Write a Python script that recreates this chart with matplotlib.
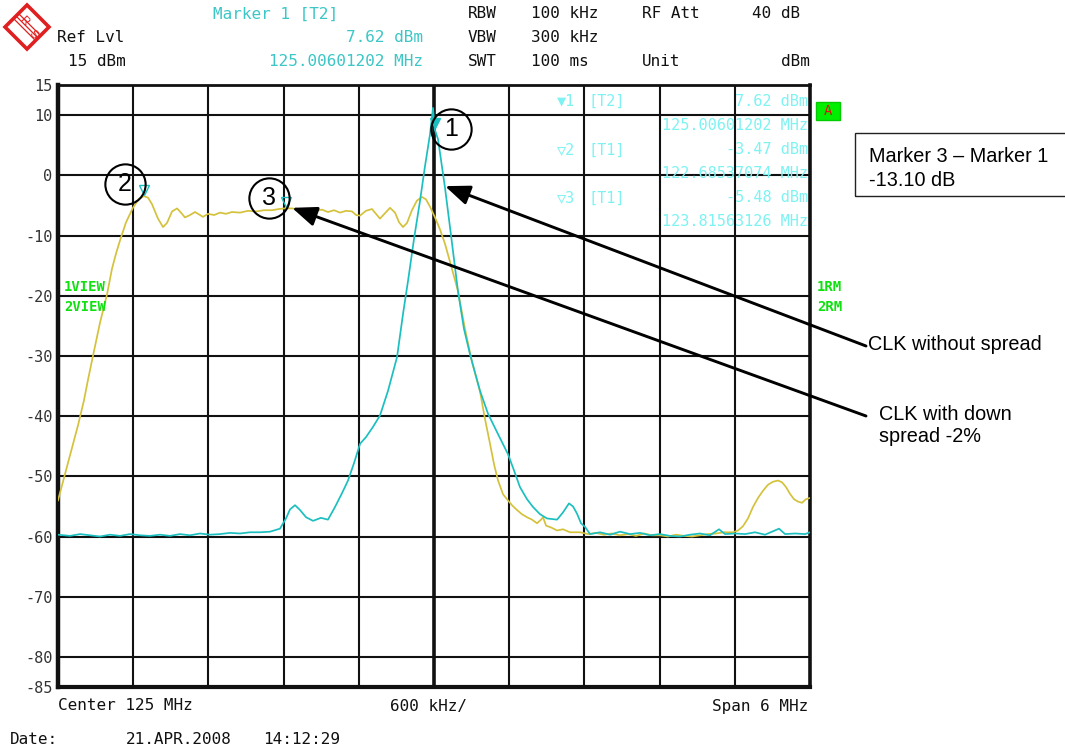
import matplotlib
matplotlib.use("Agg")
import matplotlib.pyplot as plt
import matplotlib.transforms as mtransforms
from matplotlib.patches import Polygon, Rectangle

# ---------------- data ----------------
# Trace 1 (yellow): clock with down spread -2 %   (MHz, dBm)
t1_freq = [122.000, 122.032, 122.064, 122.096, 122.128, 122.160, 122.207, 122.239,
           122.279, 122.335, 122.391, 122.431, 122.463, 122.495, 122.543, 122.598,
           122.646, 122.685, 122.718, 122.750, 122.798, 122.838, 122.870, 122.910,
           122.950, 122.981, 123.013, 123.053, 123.093, 123.125, 123.157, 123.197,
           123.245, 123.293, 123.340, 123.388, 123.452, 123.516, 123.580, 123.644,
           123.707, 123.763, 123.816, 123.867, 123.931, 123.995, 124.059, 124.106,
           124.154, 124.202, 124.250, 124.298, 124.346, 124.378, 124.410, 124.457,
           124.505, 124.537, 124.569, 124.609, 124.649, 124.689, 124.721, 124.753,
           124.785, 124.824, 124.864, 124.904, 124.936, 124.968, 125.008, 125.048,
           125.088, 125.136, 125.191, 125.247, 125.303, 125.367, 125.407, 125.447,
           125.479, 125.511, 125.551, 125.590, 125.622, 125.662, 125.702, 125.742,
           125.782, 125.822, 125.854, 125.870, 125.894, 125.934, 125.982, 126.029,
           126.085, 126.165, 126.229, 126.293, 126.356, 126.420, 126.484, 126.548,
           126.612, 126.676, 126.739, 126.803, 126.867, 126.931, 126.995, 127.059,
           127.122, 127.186, 127.250, 127.314, 127.386, 127.426, 127.465, 127.505,
           127.545, 127.585, 127.625, 127.665, 127.705, 127.745, 127.777, 127.809,
           127.840, 127.872, 127.904, 127.936, 127.968, 128.000]
t1_level = [-54.0, -51.5, -49.0, -46.5, -44.0, -41.5, -37.4, -34.0,
            -30.0, -24.5, -19.8, -15.5, -13.0, -10.8, -7.8, -5.4,
            -3.9, -3.47, -3.7, -4.8, -7.2, -8.6, -7.9, -6.0,
            -5.5, -6.2, -7.0, -6.6, -6.1, -6.5, -6.9, -6.4,
            -6.6, -6.2, -6.4, -6.1, -6.2, -5.9, -6.0, -5.8,
            -5.8, -5.6, -5.48, -5.5, -5.7, -5.6, -5.9, -5.7,
            -6.1, -5.8, -6.2, -5.9, -6.0, -6.6, -6.7, -5.9,
            -5.6, -6.4, -7.2, -6.3, -5.4, -6.2, -7.8, -8.6,
            -7.9, -5.8, -4.2, -3.6, -4.0, -5.2, -7.0, -9.0,
            -11.4, -15.0, -19.2, -25.5, -31.0, -35.9, -40.5, -44.6,
            -48.0, -50.7, -53.0, -54.0, -54.8, -55.6, -56.3, -56.8,
            -57.2, -57.8, -57.2, -56.8, -58.2, -58.5, -59.0, -58.8,
            -59.3, -59.3, -59.6, -59.4, -59.7, -59.5, -59.8, -59.6,
            -59.9, -59.5, -59.8, -59.8, -60.0, -59.7, -59.9, -60.0,
            -59.8, -59.6, -59.5, -59.3, -59.3, -59.0, -58.3, -57.0,
            -55.1, -53.6, -52.4, -51.4, -50.9, -50.7, -51.0, -51.8,
            -52.9, -53.8, -54.2, -54.4, -53.8, -53.6]

# Trace 2 (cyan): clock without spread   (MHz, dBm)
t2_freq = [122.000, 122.096, 122.176, 122.255, 122.335, 122.415, 122.495, 122.574,
           122.654, 122.734, 122.814, 122.894, 122.973, 123.053, 123.133, 123.213,
           123.293, 123.372, 123.452, 123.532, 123.612, 123.692, 123.771, 123.819,
           123.851, 123.891, 123.931, 123.979, 124.035, 124.098, 124.154, 124.210,
           124.266, 124.314, 124.362, 124.410, 124.457, 124.513, 124.569, 124.633,
           124.705, 124.753, 124.793, 124.841, 124.888, 124.928, 124.968, 124.992,
           125.006, 125.032, 125.088, 125.136, 125.191, 125.239, 125.287, 125.367,
           125.431, 125.511, 125.590, 125.638, 125.686, 125.742, 125.790, 125.846,
           125.902, 125.982, 126.029, 126.077, 126.109, 126.141, 126.173, 126.205,
           126.245, 126.325, 126.405, 126.484, 126.564, 126.644, 126.724, 126.803,
           126.883, 126.963, 127.043, 127.122, 127.202, 127.274, 127.322, 127.402,
           127.482, 127.561, 127.641, 127.753, 127.801, 127.881, 127.961, 128.000]
t2_level = [-59.7, -59.9, -59.6, -59.8, -60.0, -59.7, -59.9, -59.6,
            -59.8, -59.9, -59.7, -59.9, -59.6, -59.8, -59.5, -59.7,
            -59.6, -59.4, -59.5, -59.3, -59.3, -59.2, -58.7, -57.0,
            -55.5, -54.8, -55.6, -56.8, -57.4, -56.9, -57.2, -55.1,
            -52.8, -50.7, -47.8, -44.6, -43.5, -41.8, -39.9, -35.8,
            -30.2, -23.0, -17.5, -10.5, -4.3, 1.5, 6.8, 11.2,
            7.62, 6.0, -2.1, -10.0, -19.2, -25.5, -29.7, -35.8,
            -39.6, -43.0, -46.3, -49.0, -51.8, -53.8, -55.1, -56.3,
            -57.0, -57.2, -56.0, -54.5, -55.0, -56.2, -57.8, -58.4,
            -59.6, -59.3, -59.7, -59.2, -59.6, -59.4, -59.8, -59.6,
            -59.9, -60.0, -59.7, -59.5, -59.8, -58.8, -59.6, -59.5,
            -59.6, -59.3, -59.7, -58.7, -59.6, -59.5, -59.6, -59.3]

# Markers: (number, trace, frequency MHz, level dBm)
marker_ids = [1, 2, 3]
marker_traces = ["T2", "T1", "T1"]
marker_freq = [125.00601202, 122.68537074, 123.81563126]
marker_level = [7.62, -3.47, -5.48]
delta_3_1 = -13.10

y_ticks = [15, 10, 0, -10, -20, -30, -40, -50, -60, -70, -80, -85]
grid_levels = [10, 0, -10, -20, -30, -40, -50, -60, -70, -80]
center_mhz = 125.0
span_mhz = 6.0
divisions = 10

# ---------------- figure ----------------
W, H = 1065, 748
fig = plt.figure(figsize=(W / 100, H / 100), dpi=100)
fig.patch.set_facecolor("white")


def fx(x):
    return x / W


def fy(y):
    return 1 - y / H


MONO = ["DejaVu Sans Mono", "DejaVu Sans"]
SANS = ["Liberation Sans", "DejaVu Sans"]
YELLOW = "#d4c23c"
CYAN = "#1cbfbf"
CYAN_HDR = "#3cc6c6"
CYAN_LT = "#7ef2f2"
GREEN = "#10e010"

ax = fig.add_axes([fx(58), fy(687), fx(810) - fx(58), fy(85) - fy(687)])
f_lo, f_hi = center_mhz - span_mhz / 2, center_mhz + span_mhz / 2
ax.set_xlim(f_lo, f_hi)
ax.set_ylim(-85, 15)

# graticule
for lv in grid_levels:
    ax.axhline(lv, color="#111111", lw=1.5, zorder=1)
step = span_mhz / divisions
for k in range(1, divisions):
    ax.axvline(f_lo + k * step, color="#111111",
               lw=2.6 if k == divisions // 2 else 1.5, zorder=1)

for side, lw in (("left", 3.2), ("bottom", 3.0), ("right", 2.6), ("top", 2.0)):
    ax.spines[side].set_linewidth(lw)
    ax.spines[side].set_color("#111111")

ax.set_xticks([])
ax.set_yticks(y_ticks)
ax.set_yticklabels([str(v) for v in y_ticks], family=MONO, fontsize=11, color="#333333")
ax.tick_params(axis="y", length=0, pad=4)

# traces
ax.plot(t1_freq, t1_level, color=YELLOW, lw=1.25, zorder=3)
ax.plot(t2_freq, t2_level, color=CYAN, lw=1.25, zorder=4)

# marker symbols sitting just above the trace points
up = ax.transData + mtransforms.ScaledTranslation(0, 6 / 100, fig.dpi_scale_trans)
for i, (mf, ml) in enumerate(zip(marker_freq, marker_level)):
    ax.plot([mf], [ml], marker="v", ms=7, color=CYAN,
            mfc=CYAN if i == 0 else "none", mew=1.0, transform=up, zorder=5)

# numbered circles next to markers
circle_pos = [(125.136, 7.7), (122.535, -1.4), (123.684, -3.7)]
for mid, (cx, cy) in zip(marker_ids, circle_pos):
    ax.plot([cx], [cy], marker="o", ms=29, mfc="none", mec="black", mew=1.5,
            clip_on=False, zorder=6)
    ax.text(cx, cy, str(mid), ha="center", va="center", fontsize=18,
            family=SANS, color="black", zorder=7)

# arrows from the comments to the traces
arrow_kw = dict(arrowstyle="-|>,head_length=0.75,head_width=0.3", lw=2.1,
                color="black", mutation_scale=20, shrinkA=0, shrinkB=0)
ax.annotate("", xy=(125.088, -1.8), xycoords="data",
            xytext=(fx(866), fy(346)), textcoords="figure fraction",
            arrowprops=arrow_kw, annotation_clip=False, zorder=8)
ax.annotate("", xy=(123.867, -5.4), xycoords="data",
            xytext=(fx(866), fy(416)), textcoords="figure fraction",
            arrowprops=arrow_kw, annotation_clip=False, zorder=8)

NOTE = 14.3
fig.text(fx(868), fy(344), "CLK without spread", family=SANS, fontsize=NOTE,
         ha="left", va="center")
fig.text(fx(879), fy(414), "CLK with down", family=SANS, fontsize=NOTE,
         ha="left", va="center")
fig.text(fx(879), fy(437), "spread -2%", family=SANS, fontsize=NOTE,
         ha="left", va="center")

# delta box
fig.add_artist(Rectangle((fx(855), fy(196)), fx(1100) - fx(855), fy(133) - fy(196),
                         transform=fig.transFigure, fill=False, lw=1.0,
                         edgecolor="#222222"))
fig.text(fx(869), fy(156), "Marker 3 \u2013 Marker 1", family=SANS, fontsize=NOTE,
         ha="left", va="center")
fig.text(fx(869), fy(180), f"{delta_3_1:.2f} dB", family=SANS, fontsize=NOTE,
         ha="left", va="center")

# marker readout inside the graticule
rows = [101, 150, 198]
for i in range(3):
    sym = "\u25bc" if i == 0 else "\u25bd"
    r = rows[i]
    fig.text(fx(575), fy(r), f"{sym}{marker_ids[i]}", family=MONO, fontsize=11,
             color=CYAN_LT, ha="right", va="center")
    fig.text(fx(588), fy(r), f"[{marker_traces[i]}]", family=MONO, fontsize=11,
             color=CYAN_LT, ha="left", va="center")
    fig.text(fx(808), fy(r), f"{marker_level[i]:.2f} dBm", family=MONO, fontsize=11,
             color=CYAN_LT, ha="right", va="center")
    fig.text(fx(808), fy(r + 24), f"{marker_freq[i]:.8f} MHz", family=MONO,
             fontsize=11, color=CYAN_LT, ha="right", va="center")

# trace status labels
fig.text(fx(64), fy(287), "1VIEW", family=MONO, fontsize=10, weight="bold",
         color=GREEN, va="center")
fig.text(fx(64), fy(307), "2VIEW", family=MONO, fontsize=10, weight="bold",
         color=GREEN, va="center")
fig.text(fx(817), fy(287), "1RM", family=MONO, fontsize=10, weight="bold",
         color=GREEN, va="center")
fig.text(fx(817), fy(307), "2RM", family=MONO, fontsize=10, weight="bold",
         color=GREEN, va="center")

# "A" indicator
fig.add_artist(Rectangle((fx(816), fy(120)), fx(840) - fx(816), fy(102) - fy(120),
                         transform=fig.transFigure, facecolor="#00ee00",
                         edgecolor="#00cc00", lw=1))
fig.text(fx(828), fy(111), "A", family=MONO, fontsize=10, color="#e01010",
         ha="center", va="center")

# header
hdr = dict(family=MONO, fontsize=11.5, va="center")
fig.text(fx(213), fy(14), f"Marker {marker_ids[0]} [{marker_traces[0]}]",
         color=CYAN_HDR, **hdr)
fig.text(fx(57), fy(38), "Ref Lvl", color="#111111", **hdr)
fig.text(fx(68), fy(62), "15 dBm", color="#111111", **hdr)
fig.text(fx(423), fy(38), f"{marker_level[0]:.2f} dBm", color=CYAN_HDR,
         ha="right", **hdr)
fig.text(fx(423), fy(62), f"{marker_freq[0]:.8f} MHz", color=CYAN_HDR,
         ha="right", **hdr)
for r, (k, v) in zip([14, 38, 62], [("RBW", "100 kHz"), ("VBW", "300 kHz"),
                                   ("SWT", "100 ms")]):
    fig.text(fx(468), fy(r), k, color="#111111", **hdr)
    fig.text(fx(531), fy(r), v, color="#111111", **hdr)
fig.text(fx(642), fy(14), "RF Att", color="#111111", **hdr)
fig.text(fx(800), fy(14), "40 dB", color="#111111", ha="right", **hdr)
fig.text(fx(642), fy(62), "Unit", color="#111111", **hdr)
fig.text(fx(810), fy(62), "dBm", color="#111111", ha="right", **hdr)

# footer
fig.text(fx(58), fy(706), f"Center {center_mhz:g} MHz", color="#111111", **hdr)
fig.text(fx(390), fy(706), f"{span_mhz / divisions * 1000:g} kHz/",
         color="#111111", **hdr)
fig.text(fx(808), fy(706), f"Span {span_mhz:g} MHz", color="#111111",
         ha="right", **hdr)
fig.text(fx(10), fy(740), "Date:", color="#111111", **hdr)
fig.text(fx(126), fy(740), "21.APR.2008", color="#111111", **hdr)
fig.text(fx(263), fy(740), "14:12:29", color="#111111", **hdr)

# logo: red diamond with stripes
red = "#e02020"
cx, cy, r = 27, 27, 22
fig.add_artist(Polygon([(fx(cx), fy(cy - r)), (fx(cx + r), fy(cy)),
                        (fx(cx), fy(cy + r)), (fx(cx - r), fy(cy))],
                       closed=True, transform=fig.transFigure, facecolor="white",
                       edgecolor=red, lw=2.6))
for d in (-2.5, 0, 2.5):
    fig.add_artist(plt.Line2D([fx(cx - 11 + d), fx(cx + 11 + d)],
                              [fy(cy - 11 - d), fy(cy + 11 - d)],
                              transform=fig.transFigure, color=red, lw=0.9))
fig.text(fx(24), fy(21), "R", color=red, fontsize=8, family=SANS,
         ha="center", va="center", rotation=-45)
fig.text(fx(33), fy(34), "S", color=red, fontsize=8, family=SANS,
         ha="center", va="center", rotation=-45)

fig.savefig("out.png", dpi=100)
